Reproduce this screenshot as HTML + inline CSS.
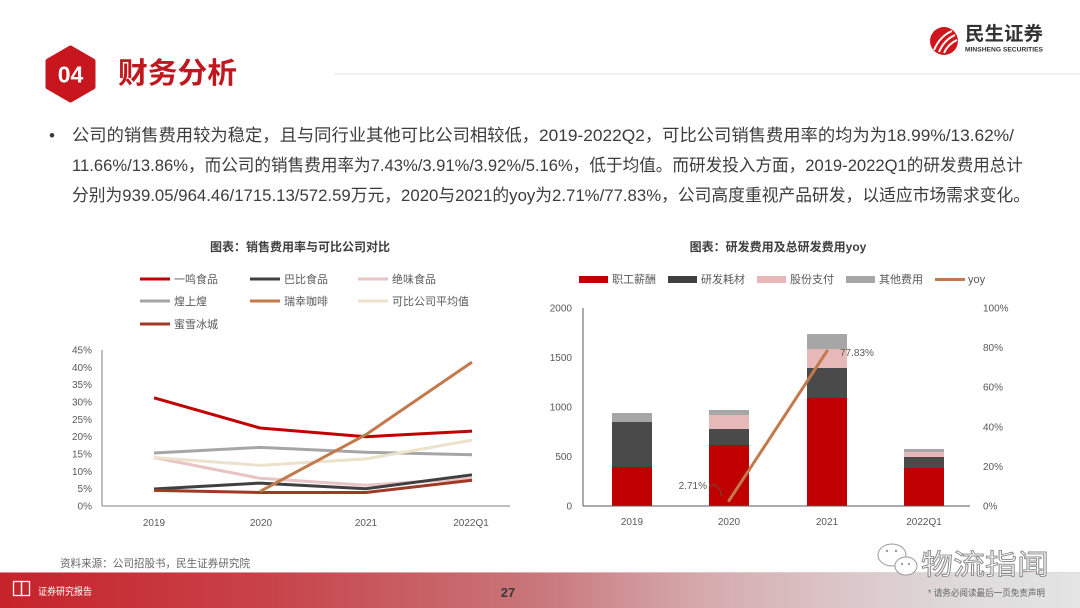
<!DOCTYPE html>
<html><head><meta charset="utf-8">
<style>
html,body{margin:0;padding:0;background:#fff;}
svg{display:block;}
text{font-family:"Liberation Sans","Noto Sans CJK SC",sans-serif;}
</style></head>
<body>
<svg width="1080" height="608" viewBox="0 0 1080 608" xmlns="http://www.w3.org/2000/svg">
<defs>
<linearGradient id="foot" x1="0" y1="0" x2="1" y2="0">
<stop offset="0" stop-color="#c6232a"/>
<stop offset="0.25" stop-color="#c8434a"/>
<stop offset="0.5" stop-color="#c9777b"/>
<stop offset="0.65" stop-color="#d5aaad"/>
<stop offset="0.78" stop-color="#dbc6c8"/>
<stop offset="0.9" stop-color="#dedcdc"/>
<stop offset="1" stop-color="#e4e4e4"/>
</linearGradient>
</defs>
<rect width="1080" height="608" fill="#fff"/>

<!-- header -->
<polygon points="70.5,49 93,62 93,87 70.5,100 48,87 48,62" fill="#eadada" transform="translate(1,2)" opacity="0.6"/>
<polygon points="70.5,48 93,61 93,87 70.5,100 48,87 48,61" fill="#c8161e" stroke="#c8161e" stroke-width="5" stroke-linejoin="round"/>
<text x="70.5" y="82.5" font-size="23" font-weight="bold" fill="#fff" text-anchor="middle">04</text>
<text x="118" y="83" font-size="29" font-weight="bold" fill="#c0181f" textLength="119" lengthAdjust="spacingAndGlyphs">财务分析</text>
<line x1="334" y1="74" x2="1080" y2="74" stroke="#ececec" stroke-width="1.5"/>

<!-- logo -->
<circle cx="944" cy="41" r="14" fill="#d0161d"/>
<path d="M934,50 Q940,36 952,31" stroke="#fff" stroke-width="2" fill="none"/>
<path d="M939,52 Q944,40 955,35" stroke="#fff" stroke-width="2" fill="none"/>
<path d="M944,53 Q948,44 957,40" stroke="#fff" stroke-width="2" fill="none"/>
<text x="965" y="40" font-size="19" font-weight="bold" fill="#333" textLength="78" lengthAdjust="spacingAndGlyphs">民生证券</text>
<text x="965" y="51.5" font-size="6.5" font-weight="bold" fill="#333" textLength="78" lengthAdjust="spacingAndGlyphs">MINSHENG SECURITIES</text>

<!-- body text -->
<g font-size="17" fill="#3c3c3c">
<text x="49" y="141">•</text>
<text x="72" y="141" textLength="942" lengthAdjust="spacingAndGlyphs">公司的销售费用较为稳定，且与同行业其他可比公司相较低，2019-2022Q2，可比公司销售费用率的均为为18.99%/13.62%/</text>
<text x="72" y="171" textLength="951" lengthAdjust="spacingAndGlyphs">11.66%/13.86%，而公司的销售费用率为7.43%/3.91%/3.92%/5.16%，低于均值。而研发投入方面，2019-2022Q1的研发费用总计</text>
<text x="72" y="201" textLength="958" lengthAdjust="spacingAndGlyphs">分别为939.05/964.46/1715.13/572.59万元，2020与2021的yoy为2.71%/77.83%，公司高度重视产品研发，以适应市场需求变化。</text>
</g>

<!-- LEFT CHART -->
<text x="300" y="251" font-size="12" font-weight="bold" fill="#404040" text-anchor="middle">图表：销售费用率与可比公司对比</text>
<g font-size="11" fill="#595959">
<line x1="140" y1="279" x2="170" y2="279" stroke="#c00000" stroke-width="3"/><text x="174" y="283">一鸣食品</text>
<line x1="250" y1="279" x2="280" y2="279" stroke="#404040" stroke-width="3"/><text x="284" y="283">巴比食品</text>
<line x1="358" y1="279" x2="388" y2="279" stroke="#e8c4c4" stroke-width="3"/><text x="392" y="283">绝味食品</text>
<line x1="140" y1="301" x2="170" y2="301" stroke="#a6a6a6" stroke-width="3"/><text x="174" y="305">煌上煌</text>
<line x1="250" y1="301" x2="280" y2="301" stroke="#c27a4c" stroke-width="3"/><text x="284" y="305">瑞幸咖啡</text>
<line x1="358" y1="301" x2="388" y2="301" stroke="#ece2cc" stroke-width="3"/><text x="392" y="305">可比公司平均值</text>
<line x1="140" y1="324" x2="170" y2="324" stroke="#a03a24" stroke-width="3"/><text x="174" y="328">蜜雪冰城</text>
</g>
<g font-size="10" fill="#595959" text-anchor="end">
<text x="92" y="509.5">0%</text>
<text x="92" y="492.2">5%</text>
<text x="92" y="474.8">10%</text>
<text x="92" y="457.5">15%</text>
<text x="92" y="440.2">20%</text>
<text x="92" y="422.8">25%</text>
<text x="92" y="405.5">30%</text>
<text x="92" y="388.2">35%</text>
<text x="92" y="370.8">40%</text>
<text x="92" y="353.5">45%</text>
</g>
<line x1="102" y1="350" x2="102" y2="506" stroke="#7f7f7f" stroke-width="1"/>
<line x1="102" y1="506" x2="510" y2="506" stroke="#7f7f7f" stroke-width="1"/>
<g font-size="10" fill="#595959" text-anchor="middle">
<text x="154" y="526">2019</text>
<text x="261" y="526">2020</text>
<text x="366" y="526">2021</text>
<text x="471" y="526">2022Q1</text>
</g>
<g fill="none" stroke-width="3" stroke-linejoin="round">
<polyline points="154,453 260,447.4 366,452.3 472,454.7" stroke="#a6a6a6"/>
<polyline points="154,457.5 260,478.3 366,485.2 472,478.3" stroke="#e8c4c4"/>
<polyline points="154,457.5 260,465.4 366,458.9 472,440.1" stroke="#ece2cc"/>
<polyline points="154,489 260,483.1 366,488.7 472,474.8" stroke="#404040"/>
<polyline points="154,490.4 260,492.5 366,492.5 472,480.3" stroke="#a03a24"/>
<polyline points="154,397.8 260,428 366,436.7 472,431.1" stroke="#c00000"/>
<polyline points="260,491.4 366,434.6 472,362.1" stroke="#c27a4c"/>
</g>

<!-- RIGHT CHART -->
<text x="778" y="251" font-size="12" font-weight="bold" fill="#404040" text-anchor="middle">图表：研发费用及总研发费用yoy</text>
<g font-size="11" fill="#595959">
<rect x="579" y="276" width="29" height="7" fill="#c00000"/><text x="612" y="283">职工薪酬</text>
<rect x="668" y="276" width="29" height="7" fill="#404040"/><text x="701" y="283">研发耗材</text>
<rect x="757" y="276" width="29" height="7" fill="#e6b9b8"/><text x="790" y="283">股份支付</text>
<rect x="846" y="276" width="29" height="7" fill="#a6a6a6"/><text x="879" y="283">其他费用</text>
<line x1="935" y1="279.5" x2="965" y2="279.5" stroke="#c27a4c" stroke-width="3"/><text x="968" y="283">yoy</text>
</g>
<g font-size="10" fill="#595959" text-anchor="end">
<text x="572" y="509.5">0</text>
<text x="572" y="460">500</text>
<text x="572" y="410.5">1000</text>
<text x="572" y="361">1500</text>
<text x="572" y="311.5">2000</text>
</g>
<g font-size="10" fill="#595959">
<text x="983" y="509.5">0%</text>
<text x="983" y="469.9">20%</text>
<text x="983" y="430.3">40%</text>
<text x="983" y="390.7">60%</text>
<text x="983" y="351.1">80%</text>
<text x="983" y="311.5">100%</text>
</g>
<!-- bars -->
<g>
<!-- 2019 -->
<rect x="612" y="467" width="40" height="39" fill="#c00000"/>
<rect x="612" y="422" width="40" height="45" fill="#4a4a4a"/>
<rect x="612" y="413" width="40" height="9" fill="#a6a6a6"/>
<!-- 2020 -->
<rect x="709" y="445" width="40" height="61" fill="#c00000"/>
<rect x="709" y="429" width="40" height="16" fill="#4a4a4a"/>
<rect x="709" y="415" width="40" height="14" fill="#e6b9b8"/>
<rect x="709" y="410" width="40" height="5" fill="#a6a6a6"/>
<!-- 2021 -->
<rect x="807" y="398" width="40" height="108" fill="#c00000"/>
<rect x="807" y="368" width="40" height="30" fill="#4a4a4a"/>
<rect x="807" y="349" width="40" height="19" fill="#e6b9b8"/>
<rect x="807" y="334" width="40" height="15" fill="#a6a6a6"/>
<!-- 2022Q1 -->
<rect x="904" y="468" width="40" height="38" fill="#c00000"/>
<rect x="904" y="457" width="40" height="11" fill="#4a4a4a"/>
<rect x="904" y="452" width="40" height="5" fill="#e6b9b8"/>
<rect x="904" y="449" width="40" height="3" fill="#a6a6a6"/>
</g>
<line x1="583" y1="308" x2="583" y2="506" stroke="#595959" stroke-width="1"/>
<line x1="583" y1="506" x2="970" y2="506" stroke="#595959" stroke-width="1"/>
<g font-size="10" fill="#595959" text-anchor="middle">
<text x="632" y="525">2019</text>
<text x="729" y="525">2020</text>
<text x="827" y="525">2021</text>
<text x="924" y="525">2022Q1</text>
</g>
<polyline points="729,500.6 827,351" fill="none" stroke="#c27a4c" stroke-width="3" stroke-linecap="round"/>
<path d="M709,485 L715,485 Q719,486 722,496" fill="none" stroke="#595959" stroke-width="0.8"/>
<text x="707" y="489" font-size="10" fill="#595959" text-anchor="end">2.71%</text>
<text x="840" y="356" font-size="10" fill="#595959">77.83%</text>

<!-- source -->
<text x="60" y="567" font-size="11" fill="#666" textLength="190" lengthAdjust="spacingAndGlyphs">资料来源：公司招股书，民生证券研究院</text>

<!-- footer -->
<rect x="0" y="572" width="1080" height="36" fill="url(#foot)"/>
<line x1="0" y1="572.5" x2="1080" y2="572.5" stroke="#e9d6d6" stroke-width="1" opacity="0.6"/>
<g stroke="#fff" stroke-width="1.3" fill="none">
<rect x="13.5" y="581.5" width="8" height="14"/>
<rect x="21.5" y="581.5" width="8" height="14"/>
</g>
<text x="38" y="595" font-size="10" fill="#fff" textLength="54" lengthAdjust="spacingAndGlyphs">证券研究报告</text>
<text x="508" y="597" font-size="13" font-weight="bold" fill="#3a3a3a" text-anchor="middle">27</text>
<text x="928" y="596" font-size="9" fill="#666" textLength="117" lengthAdjust="spacingAndGlyphs">* 请务必阅读最后一页免责声明</text>

<!-- watermark -->
<g fill="#fff" stroke="#9a9a9a" stroke-width="1">
<ellipse cx="892" cy="555" rx="14" ry="11"/>
<ellipse cx="906" cy="566" rx="11" ry="9"/>
</g>
<g fill="#9a9a9a">
<circle cx="887" cy="551" r="1.2"/><circle cx="896" cy="551" r="1.2"/>
<circle cx="902" cy="564" r="1.1"/><circle cx="909" cy="564" r="1.1"/>
</g>
<text x="921" y="574" font-size="28" fill="#fff" stroke="#8a8a8a" stroke-width="0.9" textLength="128" lengthAdjust="spacingAndGlyphs">物流指闻</text>
</svg>
</body></html>
